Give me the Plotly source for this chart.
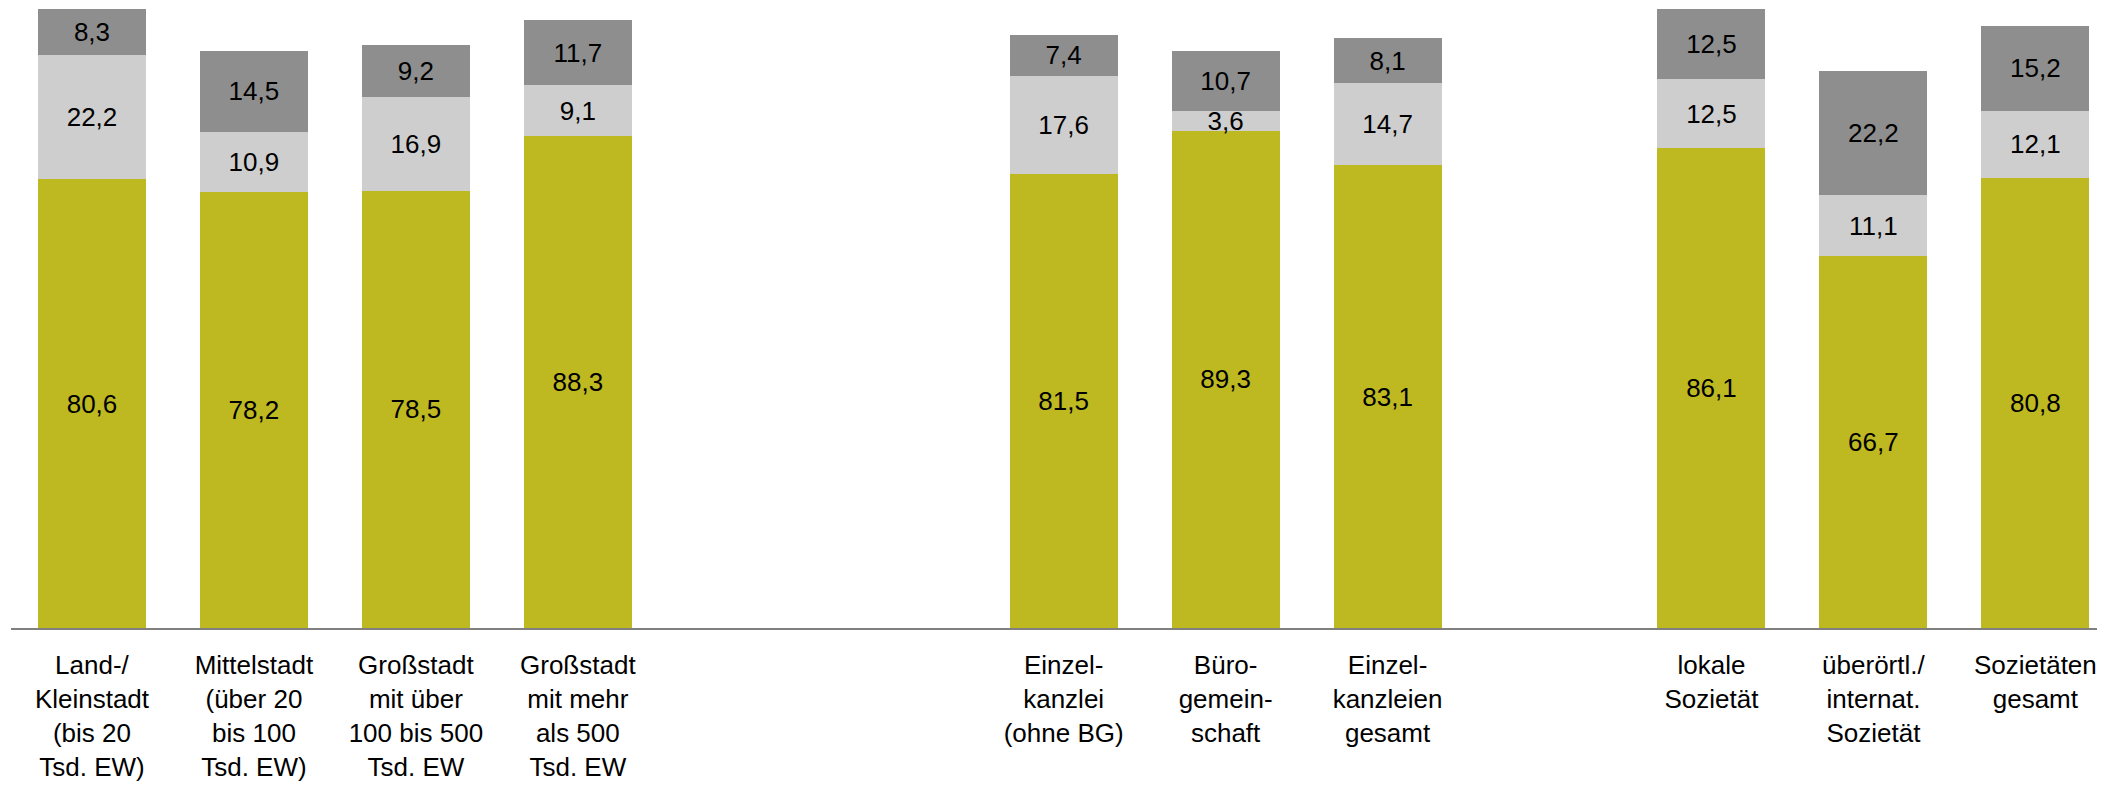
import plotly.graph_objects as go

# --- data ---
group_city = ["Land-/<br>Kleinstadt<br>(bis 20<br>Tsd. EW)",
              "Mittelstadt<br>(über 20<br>bis 100<br>Tsd. EW)",
              "Großstadt<br>mit über<br>100 bis 500<br>Tsd. EW",
              "Großstadt<br>mit mehr<br>als 500<br>Tsd. EW"]
group_einzel = ["Einzel-<br>kanzlei<br>(ohne BG)",
                "Büro-<br>gemein-<br>schaft",
                "Einzel-<br>kanzleien<br>gesamt"]
group_soz = ["lokale<br>Sozietät",
             "überörtl./<br>internat.<br>Sozietät",
             "Sozietäten<br>gesamt"]

series_green = [80.6, 78.2, 78.5, 88.3, 81.5, 89.3, 83.1, 86.1, 66.7, 80.8]
series_light = [22.2, 10.9, 16.9, 9.1, 17.6, 3.6, 14.7, 12.5, 11.1, 12.1]
series_dark = [8.3, 14.5, 9.2, 11.7, 7.4, 10.7, 8.1, 12.5, 22.2, 15.2]

# gap placeholders between groups (empty slots on the category axis)
gap_a, gap_b, gap_c = " ", "  ", "   "
categories = group_city + group_einzel + group_soz
category_order = group_city + [gap_a, gap_b] + group_einzel + [gap_c] + group_soz

GREEN = "#BEB821"
LIGHT = "#CECECE"
DARK = "#8E8E8E"
FONT = "Liberation Sans, Arial, sans-serif"

fig = go.Figure()
for vals, col in [(series_green, GREEN), (series_light, LIGHT), (series_dark, DARK)]:
    fig.add_trace(go.Bar(
        x=categories, y=vals,
        marker=dict(color=col, line=dict(width=0)),
        texttemplate="%{y:.1f}",
        textposition="inside",
        insidetextanchor="middle",
        textangle=0,
        textfont=dict(family=FONT, size=26, color="black"),
        showlegend=False,
        hoverinfo="skip",
    ))

fig.update_layout(
    width=2097, height=779,
    barmode="stack",
    bargap=0.333,
    separators=",.",
    uniformtext=dict(minsize=26, mode="show"),
    margin=dict(l=3, r=0, t=0, b=159),
    paper_bgcolor="white",
    plot_bgcolor="white",
    font=dict(family=FONT, size=26, color="black"),
    xaxis=dict(
        type="category",
        categoryorder="array",
        categoryarray=category_order,
        range=[-0.5, 12.43],
        showline=True, linecolor="#808080", linewidth=2,
        showgrid=False, zeroline=False,
        ticks="outside", ticklen=13, tickcolor="rgba(0,0,0,0)",
        tickfont=dict(family=FONT, size=26, color="black"),
    ),
    yaxis=dict(range=[0, 111.3], visible=False, showgrid=False, zeroline=False),
)

fig.write_html("out.html")
